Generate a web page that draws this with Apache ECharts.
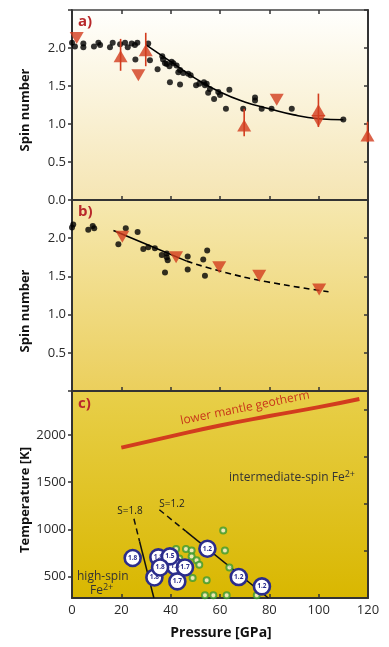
<!DOCTYPE html>
<html>
<head>
<meta charset="utf-8">
<script src="https://cdn.jsdelivr.net/npm/echarts@6/dist/echarts.min.js"></script>
<style>
html,body{margin:0;padding:0;background:#fff;}
#chart{width:389px;height:647px;}
</style>
</head>
<body>
<div id="chart"></div>
<script>
// ---------- data ----------
const pressureTicks = [0, 20, 40, 60, 80, 100, 120];
const spinTicks = [0.0, 0.5, 1.0, 1.5, 2.0];
const tempTicks = [500, 1000, 1500, 2000];

// Panel a: black dots (pressure GPa, spin)
const aDots = [[0,2.07],[1.2,2.02],[4.6,2.06],[4.6,2.01],[8.9,2.02],[10.7,2.07],[11.4,2.04],[15.4,2.01],[16.5,2.07],[19.5,2.05],[21.5,2.07],[22.6,2.01],[24.2,2.06],[25.5,2.04],[26.5,2.07],[25.7,1.85],[30.9,2.06],[31.6,1.84],[34.7,1.72],[36.6,1.89],[36.9,1.85],[37.7,1.80],[38.4,1.79],[39.5,1.76],[39.7,1.55],[40.4,1.82],[41.1,1.80],[42.4,1.77],[43.1,1.68],[43.8,1.52],[43.8,1.71],[45.1,1.67],[47.1,1.66],[48.1,1.64],[50.3,1.51],[51.6,1.53],[53.5,1.55],[53.9,1.51],[54.6,1.53],[55.2,1.41],[55.9,1.46],[57.6,1.33],[59.3,1.42],[60,1.38],[62.4,1.20],[63.8,1.45],[69.4,1.20],[74.2,1.35],[74.2,1.31],[76.9,1.20],[80.9,1.20],[89.1,1.20],[110,1.06]];
const aFit = [[30,2.04],[40,1.82],[50,1.60],[60,1.42],[70,1.29],[80,1.20],[90,1.12],[100,1.07],[110,1.055]];
const aUp = [[19.7,1.89],[29.9,1.97],[69.8,0.98],[99.9,1.18],[119.8,0.85]];
const aDown = [[1.9,2.13],[26.9,1.64],[83,1.32],[99.9,1.04]];
const aErr = [[19.7,1.70,2.12],[29.9,1.76,2.20],[69.8,0.84,1.20],[99.9,0.96,1.40],[119.8,0.76,1.03]];

// Panel b
const bDots = [[0,2.14],[0.5,2.18],[6.6,2.11],[8.4,2.16],[9.0,2.13],[18.8,1.92],[21.8,2.13],[26.6,2.08],[28.9,1.86],[30.9,1.88],[33.6,1.87],[36.4,1.78],[38.4,1.80],[38.4,1.75],[38.8,1.71],[37.7,1.55],[46.9,1.76],[46.9,1.59],[53.2,1.72],[53.9,1.51],[54.8,1.84]];
const bDown = [[20.4,2.02],[42.2,1.75],[59.7,1.62],[75.9,1.51],[100.2,1.33]];
const bSolid = [[16.8,2.10],[31.6,1.90],[46.5,1.70]];
const bDashed = [[46.5,1.70],[60,1.57],[79,1.43],[104,1.30]];

// Panel c
const geotherm = [[20,1866],[40,1985],[60,2100],[80,2200],[100,2295],[116.5,2382]];
const s18Dashed = [[25.1,1111],[27.4,870]];
const s18Solid = [[27.4,870],[33.2,271]];
const s12Dashed = [[35.4,1207],[46.1,980]];
const s12Solid = [[46.1,980],[79.6,271]];
const greenDots = [[42.2,790],[46.2,790],[48.5,775],[48.5,712],[50.5,670],[51.6,624],[61.3,987],[62,775],[63.8,595],[54.6,458],[48.9,483],[53.9,300],[57.3,300],[62.7,300],[74.9,300],[43.5,690],[44.5,640]];
const blueCircles = [[41.8,606,'1.5'],[24.6,695,'1.8'],[35,702,'1.8'],[39.7,712,'1.5'],[33.4,489,'1.8'],[35.7,595,'1.8'],[45.8,595,'1.7'],[42.7,447,'1.7'],[54.9,793,'1.2'],[67.6,493,'1.2'],[77,394,'1.2']];

// ---------- styling ----------
const RED = '#d23c1e';
const DARK = '#333';
const FONT = 'Open Sans';
const chart = echarts.init(document.getElementById('chart'), null, {renderer:'canvas'});

function grad(c1, c2){
  return {type:'linear', x:0, y:0, x2:0, y2:1, colorStops:[{offset:0,color:c1},{offset:1,color:c2}]};
}
function xAx(gi, opts){
  return Object.assign({
    gridIndex: gi, type:'value', min:0, max:120, interval:20,
    axisLine:{show:true, onZero:false, lineStyle:{color:DARK, width:2}},
    axisTick:{show:true, inside:true, length:4, lineStyle:{color:DARK, width:1.5}},
    axisLabel:{show:false},
    splitLine:{show:false}
  }, opts||{});
}
function yAxSpin(gi, right, hide){
  return {
    gridIndex: gi, type:'value', min:0, max:2.5, interval:0.5, position: right?'right':'left',
    axisLine:{show:true, onZero:false, lineStyle:{color:DARK, width:2}},
    axisTick:{show:true, inside:!!right, length:4, lineStyle:{color:DARK, width:1.5}},
    axisLabel:{show:!right, margin:6, color:'#2a2a2a', fontSize:13, fontFamily:FONT,
      formatter: v => (hide.indexOf(v) >= 0 ? '' : v.toFixed(1))},
    splitLine:{show:false}
  };
}
const errRender = function(params, api){
  const p1 = api.coord([api.value(0), api.value(1)]);
  const p2 = api.coord([api.value(0), api.value(2)]);
  return {type:'line', shape:{x1:p1[0], y1:p1[1], x2:p2[0], y2:p2[1]}, style:{stroke:RED, lineWidth:1.6}};
};

const option = {
  backgroundColor:'#ffffff',
  animation:false,
  grid:[
    {left:72, top:10, width:296, height:190, show:true, borderWidth:0, backgroundColor:grad('#fffffd','#f5e5b3')},
    {left:72, top:200, width:296, height:191, show:true, borderWidth:0, backgroundColor:grad('#f6e8b0','#ebcf5c')},
    {left:72, top:391, width:296, height:207, show:true, borderWidth:0, backgroundColor:grad('#e8cf4a','#d9b700')}
  ],
  xAxis:[
    xAx(0),
    xAx(0, {position:'top', axisLine:{show:true, onZero:false, lineStyle:{color:'#444', width:1.5}}}),
    xAx(1),
    xAx(2, {axisLabel:{show:true, margin:6, color:'#2a2a2a', fontSize:13, fontFamily:FONT, formatter: v => String(v)}})
  ],
  yAxis:[
    yAxSpin(0, false, [2.5]),
    yAxSpin(0, true, []),
    yAxSpin(1, false, [0, 2.5]),
    yAxSpin(1, true, []),
    {gridIndex:2, type:'value', min:271, max:2466, position:'left',
      axisLine:{show:true, onZero:false, lineStyle:{color:DARK, width:2}},
      axisTick:{show:true, length:4, customValues:tempTicks, lineStyle:{color:DARK, width:1.5}},
      axisLabel:{show:true, margin:6, color:'#2a2a2a', fontSize:13, fontFamily:FONT, customValues:tempTicks, formatter: v => String(Math.round(v))},
      splitLine:{show:false}},
    {gridIndex:2, type:'value', min:271, max:2466, position:'right',
      axisLine:{show:true, onZero:false, lineStyle:{color:DARK, width:2}},
      axisTick:{show:true, inside:true, length:4, customValues:[771,1271,1771,2271], lineStyle:{color:DARK, width:1.5}},
      axisLabel:{show:false}, splitLine:{show:false}}
  ],
  series:[
    // panel a
    {type:'scatter', xAxisIndex:0, yAxisIndex:0, data:aDots, symbol:'circle', symbolSize:6, itemStyle:{color:'#000'}, z:3},
    {type:'line', xAxisIndex:0, yAxisIndex:0, data:aFit, smooth:true, symbol:'none', lineStyle:{color:'#000', width:1.6}, z:2},
    {type:'custom', xAxisIndex:0, yAxisIndex:0, data:aErr, renderItem:errRender, z:4},
    {type:'scatter', xAxisIndex:0, yAxisIndex:0, data:aUp, symbol:'triangle', symbolSize:[14,12], itemStyle:{color:RED}, z:5},
    {type:'scatter', xAxisIndex:0, yAxisIndex:0, data:aDown, symbol:'triangle', symbolRotate:180, symbolSize:[14,12], itemStyle:{color:RED}, z:5},
    // panel b
    {type:'scatter', xAxisIndex:2, yAxisIndex:2, data:bDots, symbol:'circle', symbolSize:6, itemStyle:{color:'#000'}, z:3},
    {type:'line', xAxisIndex:2, yAxisIndex:2, data:bSolid, symbol:'none', lineStyle:{color:'#000', width:1.6}, z:2},
    {type:'line', xAxisIndex:2, yAxisIndex:2, data:bDashed, smooth:true, symbol:'none', lineStyle:{color:'#000', width:1.6, type:[6,4]}, z:2},
    {type:'scatter', xAxisIndex:2, yAxisIndex:2, data:bDown, symbol:'triangle', symbolRotate:180, symbolSize:[14,12], itemStyle:{color:RED}, z:5},
    // panel c
    {type:'line', xAxisIndex:3, yAxisIndex:4, data:geotherm, smooth:true, symbol:'none', lineStyle:{color:RED, width:4}, z:2},
    {type:'line', xAxisIndex:3, yAxisIndex:4, data:s18Dashed, symbol:'none', lineStyle:{color:'#111', width:1.5, type:[6,4]}, z:2},
    {type:'line', xAxisIndex:3, yAxisIndex:4, data:s18Solid, symbol:'none', lineStyle:{color:'#111', width:1.5}, z:2},
    {type:'line', xAxisIndex:3, yAxisIndex:4, data:s12Dashed, symbol:'none', lineStyle:{color:'#111', width:1.5, type:[6,4]}, z:2},
    {type:'line', xAxisIndex:3, yAxisIndex:4, data:s12Solid, symbol:'none', lineStyle:{color:'#111', width:1.5}, z:2},
    {type:'scatter', xAxisIndex:3, yAxisIndex:4, data:greenDots, symbol:'circle', symbolSize:6, itemStyle:{color:'#f4f4dc', borderColor:'#3c9a2c', borderWidth:2}, z:3},
    {type:'scatter', xAxisIndex:3, yAxisIndex:4, data:blueCircles, symbol:'circle', symbolSize:16,
      itemStyle:{color:'#ffffff', borderColor:'#2b2d8c', borderWidth:2.6, opacity:1},
      label:{show:true, position:'inside', formatter:p => p.data[2], color:'#2b2d8c', fontSize:6.5, fontWeight:'bold', fontFamily:FONT},
      z:4}
  ],
  graphic:[
    {type:'text', x:78, y:22, style:{text:'a)', fill:'#b8282a', font:'bold 15px "Open Sans"', textVerticalAlign:'middle'}, z:10},
    {type:'text', x:78, y:212, style:{text:'b)', fill:'#b8282a', font:'bold 15px "Open Sans"', textVerticalAlign:'middle'}, z:10},
    {type:'text', x:78, y:404, style:{text:'c)', fill:'#b8282a', font:'bold 15px "Open Sans"', textVerticalAlign:'middle'}, z:10},
    {type:'text', x:25, y:110, rotation:Math.PI/2, style:{text:'Spin number', fill:'#111', font:'bold 13px "Open Sans"', textAlign:'center', textVerticalAlign:'middle'}, z:10},
    {type:'text', x:25, y:311, rotation:Math.PI/2, style:{text:'Spin number', fill:'#111', font:'bold 13px "Open Sans"', textAlign:'center', textVerticalAlign:'middle'}, z:10},
    {type:'text', x:25, y:500, rotation:Math.PI/2, style:{text:'Temperature [K]', fill:'#111', font:'bold 13px "Open Sans"', textAlign:'center', textVerticalAlign:'middle'}, z:10},
    {type:'text', x:221, y:633, style:{text:'Pressure [GPa]', fill:'#111', font:'bold 14px "Open Sans"', textAlign:'center', textVerticalAlign:'middle'}, z:10},
    {type:'text', x:245, y:408, rotation:0.2, style:{text:'lower mantle geotherm', fill:'#c8361a', font:'12px "Open Sans"', textAlign:'center', textVerticalAlign:'middle'}, z:10},
    {type:'text', x:292, y:478, style:{text:'intermediate-spin Fe{sup|2+}', fill:'#333', font:'12px "Open Sans"', textAlign:'center', textVerticalAlign:'middle', rich:{sup:{fontSize:9, fontFamily:FONT, fill:'#333', padding:[0,0,7,0]}}}, z:10},
    {type:'text', x:77, y:577, style:{text:'high-spin', fill:'#333', font:'12px "Open Sans"', textAlign:'left', textVerticalAlign:'middle'}, z:10},
    {type:'text', x:90, y:591, style:{text:'Fe{sup|2+}', fill:'#333', font:'12px "Open Sans"', textAlign:'left', textVerticalAlign:'middle', rich:{sup:{fontSize:9, fontFamily:FONT, fill:'#333', padding:[0,0,7,0]}}}, z:10},
    {type:'text', x:130, y:511, style:{text:'S=1.8', fill:'#222', font:'10px "Open Sans"', textAlign:'center', textVerticalAlign:'middle'}, z:10},
    {type:'text', x:172, y:504, style:{text:'S=1.2', fill:'#222', font:'10px "Open Sans"', textAlign:'center', textVerticalAlign:'middle'}, z:10}
  ]
};
chart.setOption(option);
</script>
</body>
</html>
